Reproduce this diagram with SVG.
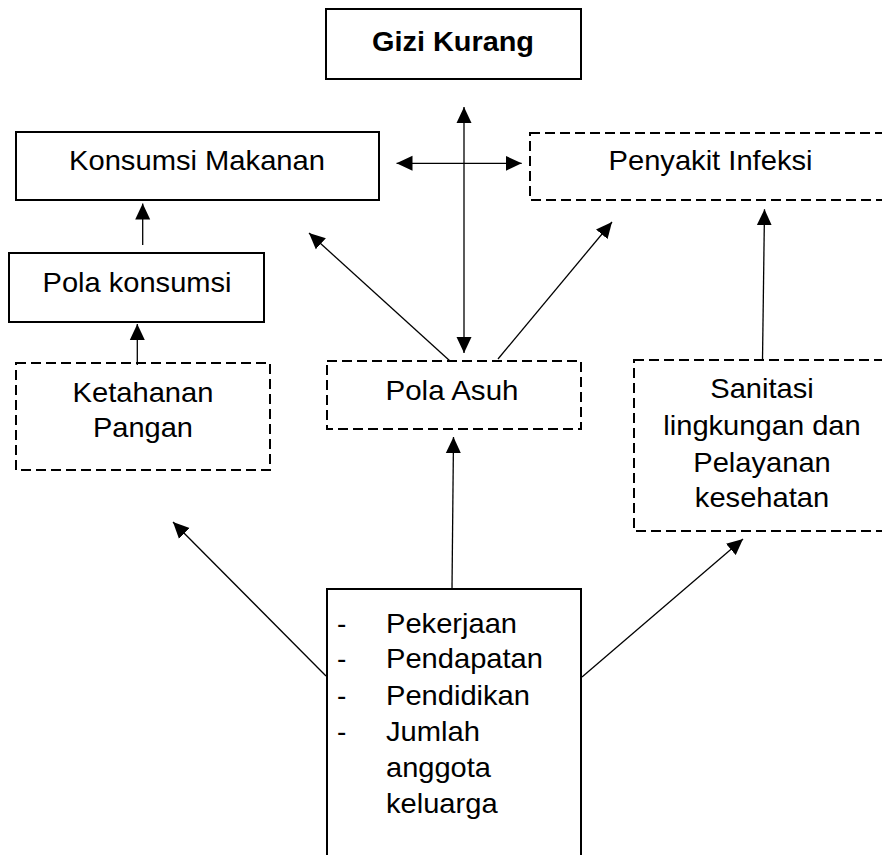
<svg xmlns="http://www.w3.org/2000/svg" width="882" height="855" viewBox="0 0 882 855">
<style>
  .solid { fill: #fff; stroke: #000; stroke-width: 2; }
  .dash { fill: #fff; stroke: #000; stroke-width: 2; stroke-dasharray: 10 5; }
  .t { font-family: "Liberation Sans", Arial, sans-serif; font-size: 28px; fill: #000; }
  .c { text-anchor: middle; }
  .b { font-weight: bold; font-size: 28px; }
  .ln { stroke: #000; stroke-width: 1.3; fill: none; }
</style>
<defs>
  <marker id="ah" markerUnits="userSpaceOnUse" markerWidth="16" markerHeight="16" viewBox="0 0 16 16" refX="16" refY="8" orient="auto">
    <path d="M0,0.5 L16,8 L0,15.5 Z" fill="#000"/>
  </marker>
  <marker id="ahs" markerUnits="userSpaceOnUse" markerWidth="16" markerHeight="16" viewBox="0 0 16 16" refX="0" refY="8" orient="auto">
    <path d="M16,0.5 L0,8 L16,15.5 Z" fill="#000"/>
  </marker>
</defs>
<rect width="882" height="855" fill="#fff"/>

<g id="node-gizi-kurang">
  <rect class="solid" x="326" y="9" width="255" height="70"/>
  <text class="t c b" x="453" y="51" textLength="162" lengthAdjust="spacingAndGlyphs">Gizi Kurang</text>
</g>
<g id="node-konsumsi-makanan">
  <rect class="solid" x="16" y="132" width="363" height="68"/>
  <text class="t c" x="197" y="170" textLength="256" lengthAdjust="spacingAndGlyphs">Konsumsi Makanan</text>
</g>
<g id="node-penyakit-infeksi">
  <rect class="dash" x="530" y="133" width="362" height="67"/>
  <text class="t c" x="710.5" y="170" textLength="204" lengthAdjust="spacingAndGlyphs">Penyakit Infeksi</text>
</g>
<g id="node-pola-konsumsi">
  <rect class="solid" x="9" y="253" width="255" height="69"/>
  <text class="t c" x="137" y="292" textLength="189" lengthAdjust="spacingAndGlyphs">Pola konsumsi</text>
</g>
<g id="node-ketahanan-pangan">
  <rect class="dash" x="16" y="363" width="254" height="107"/>
  <text class="t c" x="143" y="402" textLength="141" lengthAdjust="spacingAndGlyphs">Ketahanan</text>
  <text class="t c" x="143" y="437" textLength="100" lengthAdjust="spacingAndGlyphs">Pangan</text>
</g>
<g id="node-pola-asuh">
  <rect class="dash" x="327" y="361" width="254" height="68"/>
  <text class="t c" x="452" y="400" textLength="133" lengthAdjust="spacingAndGlyphs">Pola Asuh</text>
</g>
<g id="node-sanitasi">
  <rect class="dash" x="634" y="360" width="258" height="171"/>
  <text class="t c" x="762" y="398" textLength="103.5" lengthAdjust="spacingAndGlyphs">Sanitasi</text>
  <text class="t c" x="762" y="435" textLength="197.5" lengthAdjust="spacingAndGlyphs">lingkungan dan</text>
  <text class="t c" x="762" y="472" textLength="137.5" lengthAdjust="spacingAndGlyphs">Pelayanan</text>
  <text class="t c" x="762" y="507" textLength="134.3" lengthAdjust="spacingAndGlyphs">kesehatan</text>
</g>
<g id="node-faktor">
  <rect class="solid" x="327" y="589" width="254" height="290"/>
  <text class="t" x="337" y="633">-</text>
  <text class="t" x="337" y="668">-</text>
  <text class="t" x="337" y="705">-</text>
  <text class="t" x="337" y="741">-</text>
  <text class="t" x="386" y="633" textLength="131" lengthAdjust="spacingAndGlyphs">Pekerjaan</text>
  <text class="t" x="386" y="668" textLength="157" lengthAdjust="spacingAndGlyphs">Pendapatan</text>
  <text class="t" x="386" y="705" textLength="144" lengthAdjust="spacingAndGlyphs">Pendidikan</text>
  <text class="t" x="386" y="741" textLength="94" lengthAdjust="spacingAndGlyphs">Jumlah</text>
  <text class="t" x="386" y="777" textLength="105" lengthAdjust="spacingAndGlyphs">anggota</text>
  <text class="t" x="386" y="813" textLength="111.6" lengthAdjust="spacingAndGlyphs">keluarga</text>
</g>

<g id="connectors">
  <line class="ln" x1="464" y1="353" x2="464" y2="107" marker-start="url(#ahs)" marker-end="url(#ah)"/>
  <line class="ln" x1="396.5" y1="163.3" x2="521.7" y2="163.3" marker-start="url(#ahs)" marker-end="url(#ah)"/>
  <line class="ln" x1="450" y1="361" x2="309" y2="233" marker-end="url(#ah)"/>
  <line class="ln" x1="498" y1="359" x2="612" y2="222" marker-end="url(#ah)"/>
  <line class="ln" x1="762.5" y1="361" x2="764.5" y2="209.3" marker-end="url(#ah)"/>
  <line class="ln" x1="142.7" y1="245" x2="142.7" y2="203.5" marker-end="url(#ah)"/>
  <line class="ln" x1="137.3" y1="365" x2="137.3" y2="324" marker-end="url(#ah)"/>
  <line class="ln" x1="452" y1="589" x2="453.5" y2="437" marker-end="url(#ah)"/>
  <line class="ln" x1="326" y1="676" x2="173" y2="522" marker-end="url(#ah)"/>
  <line class="ln" x1="582" y1="677" x2="743" y2="539" marker-end="url(#ah)"/>
</g>
</svg>
